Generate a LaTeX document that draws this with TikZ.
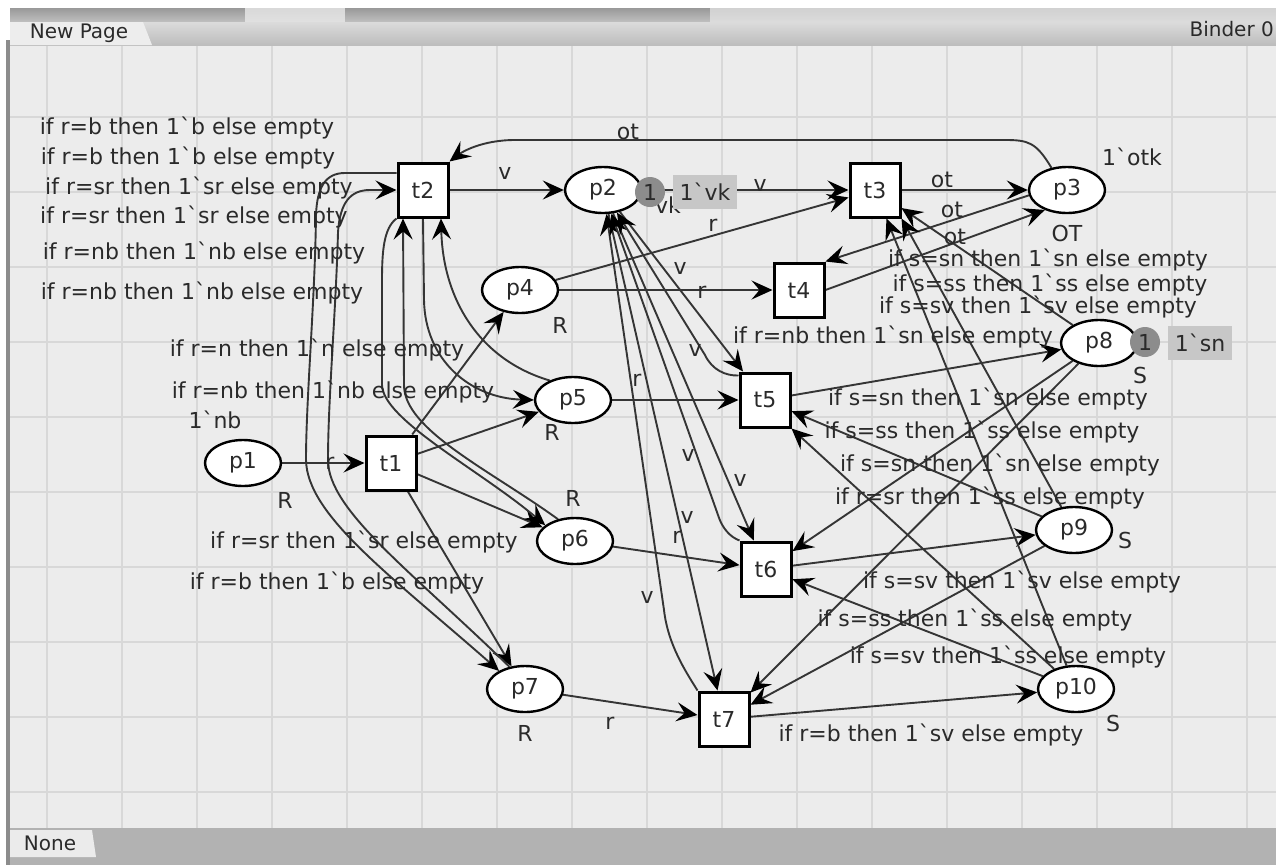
\documentclass[tikz,border=0pt]{standalone}
\usepackage{fontspec}
\newfontfamily\dv{DejaVu Sans}
\usetikzlibrary{arrows.meta,shapes.geometric}
\pgfdeclarelayer{bg}
\pgfdeclarelayer{edges}
\pgfsetlayers{bg,edges,main}
\definecolor{canvasc}{HTML}{ECECEC}
\definecolor{gridc}{HTML}{D8D8D8}
\definecolor{edgec}{HTML}{353535}
\definecolor{txtc}{HTML}{2A2A2A}
\newcommand\lblfont{\dv\fontsize{22}{26}\selectfont}
\newcommand\tabfont{\dv\fontsize{20}{24}\selectfont}
\begin{document}
\begin{tikzpicture}[x=1pt,y=-1pt,
  place/.style={ellipse, draw=black, line width=2.4pt, fill=white, minimum width=76pt, minimum height=46pt, inner sep=0pt, font=\lblfont, text=txtc},
  trans/.style={rectangle, draw=black, line width=3pt, fill=white, minimum width=50pt, minimum height=54pt, inner sep=0pt, font=\lblfont, text=txtc},
  arc/.style={draw=edgec, line width=1.9pt, -{Stealth[length=21pt,width=19pt,inset=8pt,color=black]}},
  lbl/.style={font=\lblfont, text=txtc, inner sep=0pt},
  tabtxt/.style={font=\tabfont, text=txtc, inner sep=0pt},
  token/.style={circle, fill=black!45, minimum size=30pt, inner sep=0pt, font=\lblfont, text=txtc},
  markbox/.style={rectangle, fill=black!22, minimum width=64pt, minimum height=34pt, inner sep=0pt, font=\lblfont, text=txtc}
]
\useasboundingbox (0,0) rectangle (1276,865);

% ---------- frame and grid ----------
\begin{pgfonlayer}{bg}
\fill[white] (0,0) rectangle (1276,865);
\fill[canvasc] (10,45) rectangle (1276,828);
\foreach \x in {47,122,...,1247} \draw[gridc,line width=1.6pt] (\x,45) -- (\x,828);
\foreach \y in {117,192,...,793} \draw[gridc,line width=1.6pt] (10,\y) -- (1276,\y);
\shade[top color=black!40, bottom color=black!25] (10,8) rectangle (245,22);
\shade[top color=black!15, bottom color=black!12] (245,8) rectangle (345,22);
\shade[top color=black!40, bottom color=black!25] (345,8) rectangle (710,22);
\shade[top color=black!18, bottom color=black!14] (710,8) rectangle (1276,22);
\shade[top color=black!14, bottom color=black!26] (10,22) rectangle (1276,45);
\fill[black!7] (10,22) -- (143,22) -- (152,45) -- (10,45) -- cycle;
\fill[black!30] (10,828) rectangle (1276,865);
\fill[black!8] (10,830) -- (92,830) -- (96,857) -- (10,857) -- cycle;
\fill[black!45] (6,40) rectangle (10,865);
\end{pgfonlayer}
\node[tabtxt] (tabnp) at (79,33) {New Page};
\node[tabtxt, anchor=east] (tabbd) at (1274,29) {Binder 0};
\node[tabtxt] (tabnone) at (50,843) {None};

% ---------- nodes ----------
\node[place] (p1) at (243,463) {p1};
\node[trans] (t1) at (391,463) {t1};
\node[trans] (t2) at (423,190) {t2};
\node[place] (p2) at (603,190) {p2};
\node[trans] (t3) at (875,190) {t3};
\node[place] (p3) at (1067,190) {p3};
\node[place] (p4) at (520,290) {p4};
\node[trans] (t4) at (799,290) {t4};
\node[place] (p5) at (573,400) {p5};
\node[trans] (t5) at (765,400) {t5};
\node[place] (p6) at (575,541) {p6};
\node[trans] (t6) at (766,569) {t6};
\node[place] (p7) at (525,689) {p7};
\node[trans] (t7) at (724,719) {t7};
\node[place] (p8) at (1099,343) {p8};
\node[place] (p9) at (1074,530) {p9};
\node[place] (p10) at (1076,689) {p10};

% ---------- arcs ----------
\begin{pgfonlayer}{edges}
\draw[arc] (p1) -- (t1);
\draw[arc] (t1) -- (p4);
\draw[arc] (t1) -- (p5);
\draw[arc] (t1) -- (p6);
\draw[arc] (t1) -- (p7);
\draw[arc] (t2) -- (p2);
\draw[arc] (p2) -- (t3);
\draw[arc] (t3) -- (p3);
\draw[arc] (p4) -- (t3);
\draw[arc] (p4) -- (t4);
\draw[arc] (p3.188) -- (t4.north east);
\draw[arc] (t4.east) -- (p3.222);
\draw[arc] (p3.125) .. controls (1036,142) and (1028,140) .. (1005,140) -- (515,140) .. controls (482,140) and (462,152) .. (t2.north east);
% t2 <-> p7
\draw[arc] ([yshift=17pt]t2.west) -- (345,173) .. controls (325,173) and (317,188) .. (316,215) .. controls (315,300) and (306,400) .. (306,460) .. controls (307,515) and (390,575) .. (p7.145);
\draw[arc] (p7.125) .. controls (410,570) and (328,510) .. (328,460) .. controls (328,400) and (336,310) .. (338,232) .. controls (340,203) and (350,190) .. (370,190) -- (t2.west);
% t2 <-> p6
\draw[arc] (t2.south west) .. controls (384,228) and (382,250) .. (382,280) -- (382,385) .. controls (383,420) and (480,470) .. (p6.152);
\draw[arc] (p6.128) .. controls (490,470) and (404,430) .. (404,385) -- ([xshift=-20pt]t2.south);
% t2 <-> p5
\draw[arc] (t2.south) -- (424,300) .. controls (425,360) and (470,398) .. (p5.west);
\draw[arc] (p5.140) .. controls (480,360) and (443,300) .. ([xshift=18pt]t2.south);
% p2 <-> t5, t6, t7
\draw[arc] (p2) -- (t7);
\draw[arc] (p2) -- (t6);
\draw[arc] (p2) -- (t5);
\draw[arc] (t7.north west) .. controls (686,672) and (668,645) .. (664,610) -- (p2);
\draw[arc] (t6.north west) .. controls (730,537) and (722,528) .. (718,515) -- (p2);
\draw[arc] ([yshift=-4pt]t5.north west) .. controls (726,376) and (712,370) .. (705,355) -- (p2);
% lower places to transitions
\draw[arc] (p5) -- (t5);
\draw[arc] (p6) -- (t6);
\draw[arc] (p7) -- (t7);
\draw[arc] (t5) -- (p8);
\draw[arc] (t6) -- (p9);
\draw[arc] (t7) -- (p10);
\draw[arc] (p9) -- (t5);
\draw[arc] (p10) -- (t5.south east);
\draw[arc] (p8) -- (t6);
\draw[arc] (p10) -- (t6);
\draw[arc] (p8) -- (t7);
\draw[arc] (p9) -- (t7);
\draw[arc] (p8) -- (t3);
\draw[arc] (p9) -- (t3.south east);
\draw[arc] (p10) -- (t3);
\end{pgfonlayer}

% ---------- markings ----------
\node[lbl] (vk) at (668,205) {vk};
\node[token] (tok2) at (650,192) {1};
\node[markbox] (mk2) at (705,192) {1`vk};
\node[token] (tok8) at (1145,342) {1};
\node[markbox] (mk8) at (1200,343) {1`sn};

% ---------- labels ----------
\node[lbl] (l1) at (187,128) {if r=b then 1`b else empty};
\node[lbl] (l2) at (188,158) {if r=b then 1`b else empty};
\node[lbl] (l3) at (199,188) {if r=sr then 1`sr else empty};
\node[lbl] (l4) at (194,217) {if r=sr then 1`sr else empty};
\node[lbl] (l5) at (204,253) {if r=nb then 1`nb else empty};
\node[lbl] (l6) at (202,293) {if r=nb then 1`nb else empty};
\node[lbl] (l7) at (317,350) {if r=n then 1`n else empty};
\node[lbl] (l8) at (333,392) {if r=nb then 1`nb else empty};
\node[lbl] (l9) at (215,420) {1`nb};
\node[lbl] (l10) at (285,500) {R};
\node[lbl] (l11) at (330,463) {r};
\node[lbl] (l12) at (364,542) {if r=sr then 1`sr else empty};
\node[lbl] (l13) at (337,583) {if r=b then 1`b else empty};
\node[lbl] (l14) at (560,325) {R};
\node[lbl] (l15) at (552,432) {R};
\node[lbl] (l16) at (573,498) {R};
\node[lbl] (l17) at (525,733) {R};
\node[lbl] (l18) at (610,723) {r};
\node[lbl] (l19) at (637,380) {r};
\node[lbl] (l20) at (677,537) {r};
\node[lbl] (l21) at (505,173) {v};
\node[lbl] (l22) at (628,132) {ot};
\node[lbl] (l23) at (760,185) {v};
\node[lbl] (l24) at (713,225) {r};
\node[lbl] (l25) at (702,292) {r};
\node[lbl] (l26) at (680,268) {v};
\node[lbl] (l27) at (695,350) {v};
\node[lbl] (l28) at (688,455) {v};
\node[lbl] (l29) at (740,480) {v};
\node[lbl] (l30) at (687,517) {v};
\node[lbl] (l31) at (647,597) {v};
\node[lbl] (l32) at (942,180) {ot};
\node[lbl] (l33) at (952,210) {ot};
\node[lbl] (l34) at (955,237) {ot};
\node[lbl] (l35) at (1132,157) {1`otk};
\node[lbl] (l36) at (1067,233) {OT};
\node[lbl] (l37) at (1048,260) {if s=sn then 1`sn else empty};
\node[lbl] (l38) at (1050,285) {if s=ss then 1`ss else empty};
\node[lbl] (l39) at (1038,307) {if s=sv then 1`sv else empty};
\node[lbl] (l40) at (893,337) {if r=nb then 1`sn else empty};
\node[lbl] (l41) at (988,399) {if s=sn then 1`sn else empty};
\node[lbl] (l42) at (982,432) {if s=ss then 1`ss else empty};
\node[lbl] (l43) at (1000,465) {if s=sn then 1`sn else empty};
\node[lbl] (l44) at (990,498) {if r=sr then 1`ss else empty};
\node[lbl] (l45) at (1022,582) {if s=sv then 1`sv else empty};
\node[lbl] (l46) at (975,620) {if s=ss then 1`ss else empty};
\node[lbl] (l47) at (1008,657) {if s=sv then 1`ss else empty};
\node[lbl] (l48) at (931,735) {if r=b then 1`sv else empty};
\node[lbl] (l49) at (1140,375) {S};
\node[lbl] (l50) at (1125,540) {S};
\node[lbl] (l51) at (1113,723) {S};
\end{tikzpicture}
\end{document}
